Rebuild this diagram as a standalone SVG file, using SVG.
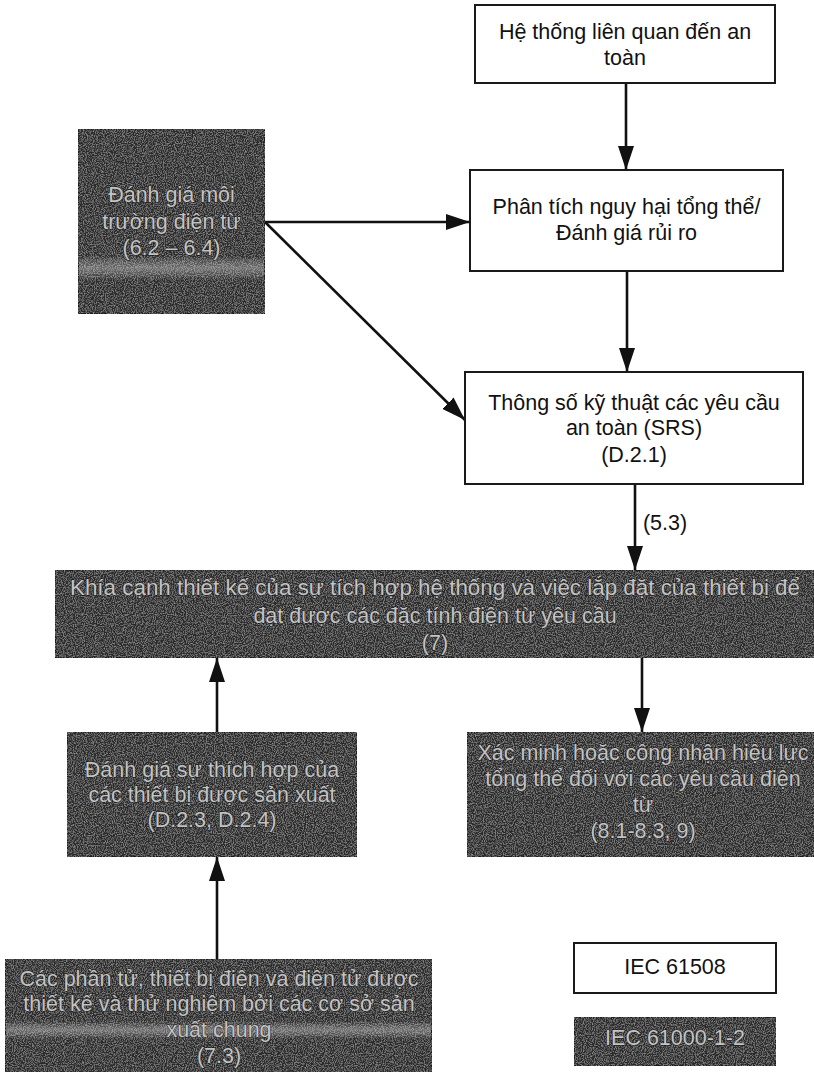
<svg xmlns="http://www.w3.org/2000/svg" width="814" height="1072" viewBox="0 0 814 1072">
<defs>
<style>
.wbox{fill:#ffffff;stroke:#1a1a1a;stroke-width:2}
.dbox{fill:#2c2c2c;stroke:#1a1a1a;stroke-width:2;filter:url(#grain)}
.wt{font-family:"Liberation Sans",Arial,sans-serif;font-size:21.5px;fill:#111;text-anchor:middle}
.dt{font-family:"Liberation Sans",Arial,sans-serif;font-size:21.5px;fill:#c4c4c4;stroke:#161616;stroke-width:0.8px;paint-order:stroke;text-anchor:middle}
.conn{stroke:#111;stroke-width:2.6;fill:none;marker-end:url(#ah)}
.band{fill:url(#bandg)}
</style>
<filter id="grain" x="0" y="0" width="100%" height="100%">
<feTurbulence type="fractalNoise" baseFrequency="0.9" numOctaves="2" seed="3" result="n"/>
<feColorMatrix in="n" type="matrix" values="0 0 0 0 0.62  0 0 0 0 0.62  0 0 0 0 0.62  1.0 0 0 0 -0.42" result="g"/>
<feComposite in="g" in2="SourceGraphic" operator="in" result="gi"/>
<feMerge><feMergeNode in="SourceGraphic"/><feMergeNode in="gi"/></feMerge>
</filter>
<linearGradient id="bandg" x1="0" y1="0" x2="0" y2="1">
<stop offset="0" stop-color="#ffffff" stop-opacity="0"/>
<stop offset="0.5" stop-color="#d0d0d0" stop-opacity="0.4"/>
<stop offset="1" stop-color="#ffffff" stop-opacity="0"/>
</linearGradient>
<marker id="ah" viewBox="0 0 24 16" refX="24" refY="8" markerWidth="24" markerHeight="16" markerUnits="userSpaceOnUse" orient="auto">
<path d="M0,0 L24,8 L0,16 z" fill="#111"/>
</marker>
</defs>
<rect width="814" height="1072" fill="#ffffff"/>

<g id="connectors">
<line class="conn" x1="626" y1="83" x2="626" y2="170"/>
<line class="conn" x1="627" y1="271" x2="627" y2="372"/>
<line class="conn" x1="265" y1="222" x2="470" y2="222"/>
<line class="conn" x1="265" y1="222" x2="465" y2="420"/>
<line class="conn" x1="635" y1="484" x2="635" y2="570"/>
<text class="wt" x="665" y="530">(5.3)</text>
<line class="conn" x1="217" y1="732" x2="217" y2="658"/>
<line class="conn" x1="642" y1="658" x2="642" y2="732"/>
<line class="conn" x1="217" y1="959" x2="217" y2="857"/>
</g>

<g id="node-he-thong">
<rect class="wbox" x="475" y="5" width="300" height="78"/>
<text class="wt" x="625" y="39">Hệ thống liên quan đến an</text>
<text class="wt" x="625" y="65">toàn</text>
</g>

<g id="node-phan-tich">
<rect class="wbox" x="470" y="170" width="313" height="101"/>
<text class="wt" x="626.5" y="214">Phân tích nguy hại tổng thể/</text>
<text class="wt" x="626.5" y="240">Đánh giá rủi ro</text>
</g>

<g id="node-srs">
<rect class="wbox" x="465" y="372" width="338" height="112"/>
<text class="wt" x="634" y="410">Thông số kỹ thuật các yêu cầu</text>
<text class="wt" x="634" y="435">an toàn (SRS)</text>
<text class="wt" x="634" y="462">(D.2.1)</text>
</g>

<g id="node-moi-truong">
<rect class="dbox" x="78" y="129" width="187" height="185"/>
<rect class="band" x="79" y="256" width="185" height="24"/>
<text class="dt" x="171.5" y="202">Đánh giá môi</text>
<text class="dt" x="171.5" y="229">trường điện từ</text>
<text class="dt" x="171.5" y="255">(6.2 – 6.4)</text>
</g>

<g id="node-khia-canh">
<rect class="dbox" x="55" y="570" width="775" height="88"/>
<text class="dt" x="435" y="595" textLength="730" lengthAdjust="spacingAndGlyphs">Khía cạnh thiết kế của sự tích hợp hệ thống và việc lắp đặt của thiết bị để</text>
<text class="dt" x="435" y="623">đạt được các đặc tính điện từ yêu cầu</text>
<text class="dt" x="435" y="650">(7)</text>
</g>

<g id="node-thich-hop">
<rect class="dbox" x="67" y="732" width="290" height="125"/>
<text class="dt" x="212" y="777">Đánh giá sự thích hợp của</text>
<text class="dt" x="212" y="802">các thiết bị được sản xuất</text>
<text class="dt" x="212" y="827">(D.2.3, D.2.4)</text>
</g>

<g id="node-xac-minh">
<rect class="dbox" x="467" y="732" width="363" height="125"/>
<text class="dt" x="643" y="760">Xác minh hoặc công nhận hiệu lực</text>
<text class="dt" x="643" y="786">tổng thể đối với các yêu cầu điện</text>
<text class="dt" x="643" y="812">từ</text>
<text class="dt" x="643" y="838">(8.1-8.3, 9)</text>
</g>

<g id="node-phan-tu">
<rect class="dbox" x="5" y="959" width="427" height="120"/>
<rect class="band" x="6" y="1021" width="425" height="18"/>
<text class="dt" x="219" y="986">Các phần tử, thiết bị điện và điện tử được</text>
<text class="dt" x="219" y="1011">thiết kế và thử nghiệm bởi các cơ sở sản</text>
<text class="dt" x="219" y="1037">xuất chung</text>
<text class="dt" x="219" y="1063">(7.3)</text>
</g>

<g id="legend-iec61508">
<rect class="wbox" x="574" y="943" width="202" height="50"/>
<text class="wt" x="675" y="974">IEC 61508</text>
</g>

<g id="legend-iec61000">
<rect class="dbox" x="574" y="1017" width="202" height="49"/>
<text class="dt" x="675" y="1045">IEC 61000-1-2</text>
</g>
</svg>
